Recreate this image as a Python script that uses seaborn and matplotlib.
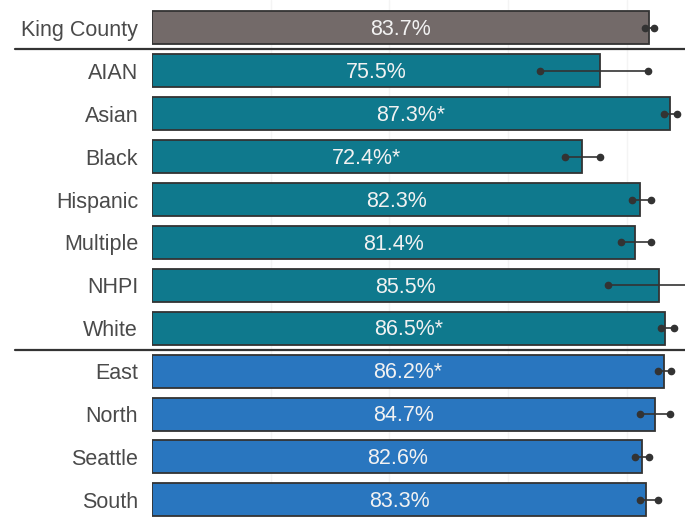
import matplotlib.pyplot as plt
import pandas as pd
import seaborn as sns

labels = ['King County', 'AIAN', 'Asian', 'Black', 'Hispanic', 'Multiple', 'NHPI', 'White',
          'East', 'North', 'Seattle', 'South']
values = [83.7, 75.5, 87.3, 72.4, 82.3, 81.4, 85.5, 86.5, 86.2, 84.7, 82.6, 83.3]
marks = ['', '', '*', '*', '', '', '', '*', '*', '', '', '']
ci_low = [83.0, 65.3, 86.2, 69.5, 80.8, 79.1, 76.9, 85.8, 85.2, 82.3, 81.3, 82.3]
ci_high = [84.5, 83.6, 88.5, 75.4, 84.1, 84.0, 94.0, 87.9, 87.5, 87.2, 83.8, 85.2]
groups = ['All'] + ['Race'] * 7 + ['Region'] * 4

df = pd.DataFrame({'label': labels, 'value': values, 'group': groups})

sns.set_style('white')
plt.rcParams['font.family'] = ['Liberation Sans', 'DejaVu Sans']
fig = plt.figure(figsize=(6.85, 5.17), dpi=100)
ax = fig.add_axes([152 / 685, 0, 533 / 685, 1])

sns.barplot(data=df, x='value', y='label', hue='group', dodge=False, orient='h',
            palette={'All': '#736a69', 'Race': '#0f798d', 'Region': '#2976bf'},
            saturation=1, width=0.77, edgecolor='#333333', linewidth=1.3, legend=False, ax=ax)

ax.set_xlim(0, 89.8)
ax.set_ylim(11.4, -0.65)
ax.set_xticks([20, 40, 60, 80])
ax.xaxis.grid(True, color='#f4f4f4', linewidth=1)
ax.set_axisbelow(True)
ax.tick_params(axis='x', length=0, labelbottom=False)
ax.tick_params(axis='y', length=0, pad=10, labelsize=15.5, labelcolor='#4a4a4a')
ax.set_xlabel('')
ax.set_ylabel('')
sns.despine(ax=ax, left=True, bottom=True)

for i, v in enumerate(values):
    ax.text(v / 2, i + 0.04, f'{v}%{marks[i]}', ha='center', va='center', fontsize=15.5, color='#f2f2f2')
    ax.plot([ci_low[i], ci_high[i]], [i, i], color='#333333', linewidth=1.2, clip_on=True)
    ax.plot([ci_low[i], ci_high[i]], [i, i], 'o', color='#333333', markersize=4.5, clip_on=True)

for y in [0.5, 7.5]:
    ax.axhline(y, xmin=-137 / 533, xmax=1, color='#333333', linewidth=1.6, clip_on=False)

fig.savefig('out.png', dpi=100)
